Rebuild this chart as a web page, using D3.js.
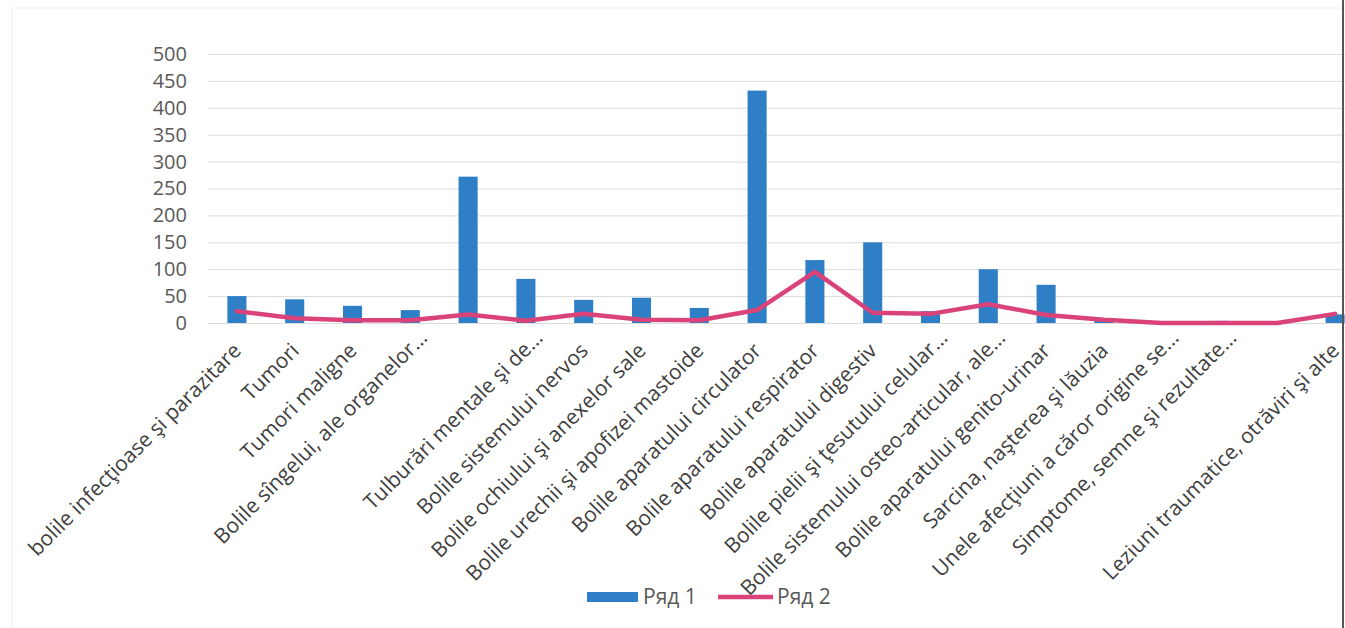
<!DOCTYPE html>
<html>
<head>
<meta charset="utf-8">
<script src="https://cdn.jsdelivr.net/npm/d3@7"></script>
<style>
  body { margin: 0; background: #fff; }
  text { font-family: "Open Sans", sans-serif; }
</style>
</head>
<body>
<script>
// categories (two labels are blank in the source chart)
var categories = [
    "bolile infecţioase şi parazitare",
    "Tumori",
    "Tumori maligne",
    "Bolile sîngelui, ale organelor…",
    "",
    "Tulburări mentale şi de…",
    "Bolile sistemului nervos",
    "Bolile ochiului şi anexelor sale",
    "Bolile urechii şi apofizei mastoide",
    "Bolile aparatului circulator",
    "Bolile aparatului respirator",
    "Bolile aparatului digestiv",
    "Bolile pielii şi ţesutului celular…",
    "Bolile sistemului osteo-articular, ale…",
    "Bolile aparatului genito-urinar",
    "Sarcina, naşterea şi lăuzia",
    "Unele afecţiuni a căror origine se…",
    "Simptome, semne şi rezultate…",
    "",
    "Leziuni traumatice, otrăviri şi alte"
];
var seriesNames = ["Ряд 1", "Ряд 2"];
var ryad1 = [50, 44, 32, 24, 272, 82, 43, 47, 28, 432, 117, 150, 22, 100, 71, 8, 0, 4, 0, 16];
var ryad2 = [22, 9, 5, 5, 16, 4, 17, 6, 5, 24, 95, 19, 17, 35, 15, 6, 0, 0, 0, 17];
var yTicks = [0, 50, 100, 150, 200, 250, 300, 350, 400, 450, 500];

var width = 1345, height = 628;
var plotLeft = 208, plotRight = 1364, plotTop = 54, plotBottom = 323;
var blue = "#2f7fc6", pink = "#d9437a";

var svg = d3.select("body").append("svg")
    .attr("width", width)
    .attr("height", height);

// frame of the photographed chart
svg.append("line").attr("x1", 12).attr("x2", 12).attr("y1", 8).attr("y2", height)
    .attr("stroke", "#ececec");
svg.append("line").attr("x1", 12).attr("x2", width).attr("y1", 8).attr("y2", 8)
    .attr("stroke", "#ececec");

var idx = d3.range(categories.length);
var xScale = d3.scaleBand()
    .domain(idx)
    .range([plotLeft, plotRight])
    .paddingInner(0.67)
    .paddingOuter(0.335);
var yScale = d3.scaleLinear()
    .domain([0, 500])
    .range([plotBottom, plotTop]);

// gridlines + y labels
var yAxis = d3.axisLeft(yScale).tickValues(yTicks).tickSize(-(width - plotLeft)).tickPadding(21);
var gy = svg.append("g").attr("transform", "translate(" + plotLeft + ",0)").call(yAxis);
gy.select(".domain").remove();
gy.selectAll(".tick line").attr("stroke", "#dcdcdc").attr("stroke-width", 1);
gy.selectAll(".tick text")
    .attr("fill", "#595959")
    .style("font-size", "20px");

// bars
svg.append("g").selectAll("rect").data(ryad1).enter()
    .append("rect")
    .attr("x", function(d, i) { return xScale(i); })
    .attr("y", function(d) { return yScale(d); })
    .attr("width", xScale.bandwidth())
    .attr("height", function(d) { return plotBottom - yScale(d); })
    .attr("fill", blue);

// line
var line = d3.line()
    .x(function(d, i) { return xScale(i) + xScale.bandwidth() / 2; })
    .y(function(d) { return yScale(d); });
svg.append("path").datum(ryad2)
    .attr("d", line)
    .attr("fill", "none")
    .attr("stroke", pink)
    .attr("stroke-width", 4.5)
    .attr("stroke-linejoin", "round")
    .attr("stroke-linecap", "round");

// category labels, rotated
var xAxis = d3.axisBottom(xScale).tickSize(0).tickFormat(function(i) { return categories[i]; });
var gx = svg.append("g").attr("transform", "translate(0," + plotBottom + ")").call(xAxis);
gx.select(".domain").remove();
gx.selectAll(".tick text")
    .attr("fill", "#404040")
    .style("font-size", "21px")
    .attr("text-anchor", "end")
    .attr("dy", 0)
    .attr("x", function(i) { return categories[i].slice(-1) === "…" ? 18 : 0; })
    .attr("y", 0)
    .attr("transform", "translate(" + (xScale.bandwidth() / 2 - 4) + ",29) rotate(-45)");

// right edge of the photo
svg.append("line").attr("x1", 1343).attr("x2", 1343).attr("y1", 0).attr("y2", height)
    .attr("stroke", "#555").attr("stroke-width", 2);

// legend
var lg = svg.append("g");
lg.append("rect").attr("x", 587).attr("y", 592).attr("width", 51).attr("height", 10).attr("fill", blue);
lg.append("text").attr("x", 643).attr("y", 604).text(seriesNames[0])
    .attr("fill", "#595959").style("font-size", "21px");
lg.append("line").attr("x1", 718).attr("x2", 773).attr("y1", 597).attr("y2", 597)
    .attr("stroke", pink).attr("stroke-width", 4.5);
lg.append("text").attr("x", 777).attr("y", 604).text(seriesNames[1])
    .attr("fill", "#595959").style("font-size", "21px");
</script>
</body>
</html>
